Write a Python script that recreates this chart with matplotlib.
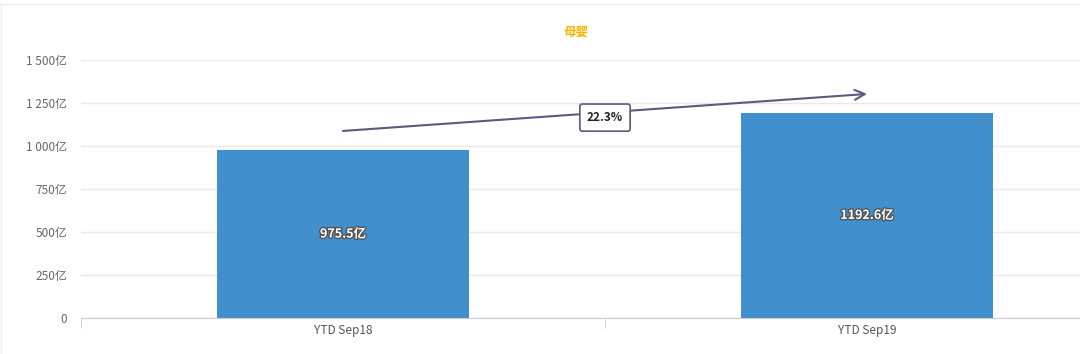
import matplotlib
matplotlib.use("Agg")
import matplotlib.pyplot as plt
import matplotlib.patheffects as pe
from matplotlib.lines import Line2D
from matplotlib.ticker import FuncFormatter

plt.rcParams['font.family'] = ['Noto Sans CJK SC', 'DejaVu Sans']

categories = ["YTD Sep18", "YTD Sep19"]
values = [975.5, 1192.6]
growth_label = "22.3%"
title = "母婴"

fig = plt.figure(figsize=(10.8, 3.54), dpi=100)
ax = fig.add_axes([81 / 1080, 1 - 318 / 354, (1080 - 81) / 1080, (318 - 60) / 354])

# faint frame of the card
fig.add_artist(Line2D([0, 1], [1 - 4 / 354, 1 - 4 / 354], color="#eeeeee", lw=1))
fig.add_artist(Line2D([1 / 1080, 1 / 1080], [0, 1 - 4 / 354], color="#eeeeee", lw=1))

x = list(range(len(categories)))
ax.bar(x, values, width=0.48, color="#428FCD", zorder=2)

for xi, v in zip(x, values):
    ax.text(xi, v / 2, f"{v}亿", ha="center", va="center", color="white",
            fontsize=9, fontweight="bold",
            path_effects=[pe.withStroke(linewidth=2, foreground="#555555")], zorder=3)

# growth arrow
y0 = values[0] + 112
y1 = values[1] + 110
ax.annotate("", xy=(x[1], y1), xytext=(x[0], y0),
            arrowprops=dict(arrowstyle="->", color="#5a5a7a", lw=1.5,
                            mutation_scale=18, shrinkA=0, shrinkB=0), zorder=4)
ax.text((x[0] + x[1]) / 2, (y0 + y1) / 2 - 30, growth_label, ha="center", va="center",
        fontsize=8.5, fontweight="bold", color="#222222", zorder=5,
        bbox=dict(boxstyle="round,pad=0.6,rounding_size=0.2", fc="white",
                  ec="#5a5a7a", lw=1.2))

ax.set_yticks([0, 250, 500, 750, 1000, 1250, 1500])
ax.yaxis.set_major_formatter(FuncFormatter(
    lambda v, p: "0" if v == 0 else f"{int(v):,}".replace(",", " ") + "亿"))
ax.set_xticks(x)
ax.set_xticklabels(categories)
ax.set_xticks([-0.5, 0.5], minor=True)
ax.set_ylim(0, 1500)
ax.set_xlim(-0.5, -0.5 + (1080 - 81) / 524)

ax.grid(axis="y", color="#e8e8e8", lw=1, zorder=0)
for s in ["top", "right", "left"]:
    ax.spines[s].set_visible(False)
ax.spines["bottom"].set_color("#cccccc")
ax.tick_params(axis="y", length=0, labelsize=8.5, labelcolor="#666666", pad=10)
ax.tick_params(axis="x", which="major", length=0, labelsize=8.5, labelcolor="#555555", pad=4)
ax.tick_params(axis="x", which="minor", length=7, color="#cccccc")

fig.text(576 / 1080, 1 - 32 / 354, title, ha="center", va="center",
         color="#F5B400", fontsize=9, fontweight="bold")

fig.savefig("out.png", dpi=100)
